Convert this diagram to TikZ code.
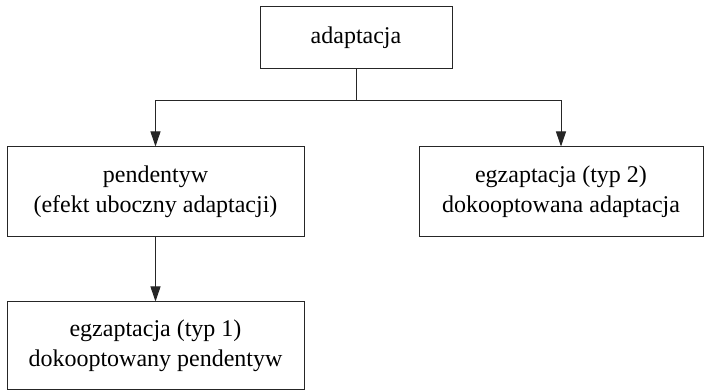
\documentclass[tikz,border=0pt]{standalone}
\usepackage{fontspec}
\setmainfont{Liberation Serif}
\usetikzlibrary{arrows.meta,positioning,calc}

\tikzset{
  box/.style={draw=black!85, line width=1pt, align=center, inner sep=0pt,
    font=\fontsize{24}{30}\selectfont},
  link/.style={draw=black!85, line width=1pt},
  arr/.style={link, -{Triangle[length=15pt,width=10pt]}},
}

\begin{document}
\begin{tikzpicture}[x=1pt,y=-1pt]
  \useasboundingbox (0,0) rectangle (710,390);

  \node[box, minimum width=192pt, minimum height=62pt] (adapt) at (356,38) {adaptacja};
  \node[box, minimum width=297pt, minimum height=90pt] (pend) at (155.5,192)
    {pendentyw\\(efekt uboczny adaptacji)};
  \node[box, minimum width=284pt, minimum height=90pt] (egztwo) at (561,192)
    {egzaptacja (typ 2)\\dokooptowana adaptacja};
  \node[box, minimum width=297pt, minimum height=87pt, below=64pt of pend] (egzone)
    {egzaptacja (typ 1)\\dokooptowany pendentyw};

  % rozgalezienie pod adaptacja
  \coordinate (split) at ($(adapt.south)+(0,31)$);
  \draw[link] (adapt.south) -- (split);
  \draw[link] (split -| pend.north) -- (split -| egztwo.north);
  \draw[arr] (split -| pend.north) -- (pend.north);
  \draw[arr] (split -| egztwo.north) -- (egztwo.north);
  \draw[arr] (pend.south) -- (egzone.north);
\end{tikzpicture}
\end{document}
